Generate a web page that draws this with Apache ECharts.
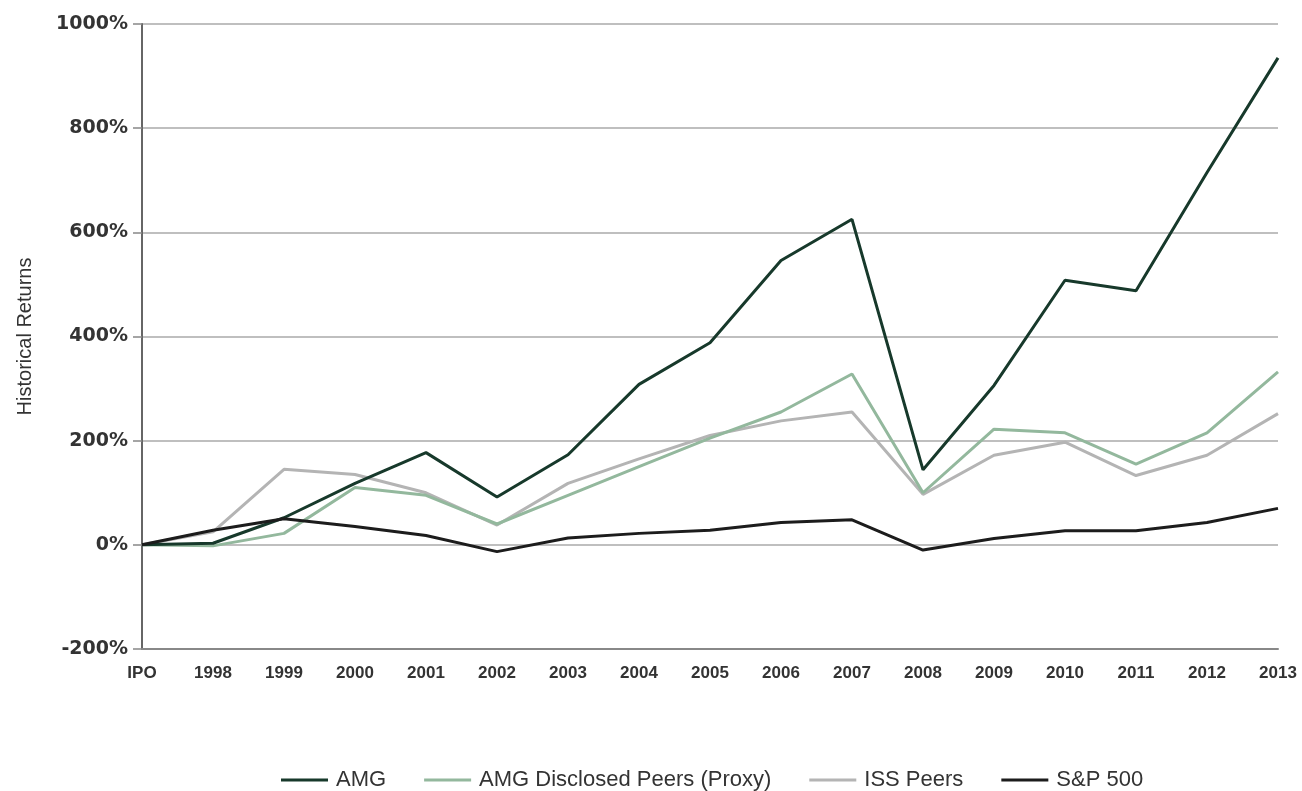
<!DOCTYPE html>
<html>
<head>
<meta charset="utf-8">
<script src="https://cdn.jsdelivr.net/npm/echarts@6/dist/echarts.min.js"></script>
<style>
  html, body { margin: 0; padding: 0; background: #fff; }
  #main { width: 1302px; height: 791px; }
</style>
</head>
<body>
<div id="main"></div>
<script>
// categories along the x axis
const years = ['IPO', '1998', '1999', '2000', '2001', '2002', '2003', '2004', '2005',
  '2006', '2007', '2008', '2009', '2010', '2011', '2012', '2013'];

// historical returns, in percent
const amg = [0, 3, 52, 118, 177, 92, 173, 308, 388, 546, 625, 144, 306, 508, 488, 715, 935];
const proxyPeers = [0, -2, 22, 110, 95, 40, 95, 150, 205, 255, 328, 100, 222, 215, 155, 215, 332];
const issPeers = [0, 25, 145, 135, 100, 38, 118, 165, 210, 238, 255, 97, 172, 197, 133, 172, 252];
const sp500 = [0, 28, 50, 35, 18, -13, 13, 22, 28, 43, 48, -10, 12, 27, 27, 43, 70];

const chart = echarts.init(document.getElementById('main'));

function line(name, data, color, z) {
  return {
    name: name,
    type: 'line',
    data: data,
    symbol: 'none',
    z: z,
    lineStyle: { color: color, width: 3 },
    itemStyle: { color: color }
  };
}

const option = {
  animation: false,
  grid: { left: 142, right: 24, top: 24, bottom: 142 },
  legend: {
    top: 764,
    left: 276,
    itemWidth: 47,
    itemHeight: 3,
    itemGap: 38,
    icon: 'rect',
    textStyle: { fontFamily: 'Liberation Sans', fontSize: 22, color: '#333', padding: [0, 0, 0, 3] },
    data: ['AMG', 'AMG Disclosed Peers (Proxy)', 'ISS Peers', 'S&P 500']
  },
  xAxis: {
    type: 'category',
    data: years,
    boundaryGap: false,
    axisLine: { onZero: false, lineStyle: { color: '#888', width: 2 } },
    axisTick: { show: false },
    axisLabel: {
      margin: 16,
      fontFamily: 'Liberation Sans',
      fontWeight: 'bold',
      fontSize: 17,
      color: '#333'
    },
    splitLine: { show: false }
  },
  yAxis: {
    type: 'value',
    min: -200,
    max: 1000,
    interval: 200,
    name: 'Historical Returns',
    nameLocation: 'middle',
    nameGap: 107,
    nameTextStyle: { fontFamily: 'Liberation Sans', fontSize: 20, color: '#333' },
    axisLine: { show: true, lineStyle: { color: '#666', width: 2 } },
    axisTick: { show: true, length: 9, lineStyle: { color: '#888', width: 1.5 } },
    axisLabel: {
      formatter: function (v) { return v + '%'; },
      margin: 14,
      fontFamily: 'DejaVu Sans',
      fontWeight: 'bold',
      fontSize: 19,
      color: '#333'
    },
    splitLine: { lineStyle: { color: '#aaa', width: 1.5 } }
  },
  series: [
    line('AMG', amg, '#17392b', 4),
    line('AMG Disclosed Peers (Proxy)', proxyPeers, '#93b89d', 3),
    line('ISS Peers', issPeers, '#b4b4b4', 2),
    line('S&P 500', sp500, '#1c1c1c', 5)
  ]
};

option && chart.setOption(option);
</script>
</body>
</html>
